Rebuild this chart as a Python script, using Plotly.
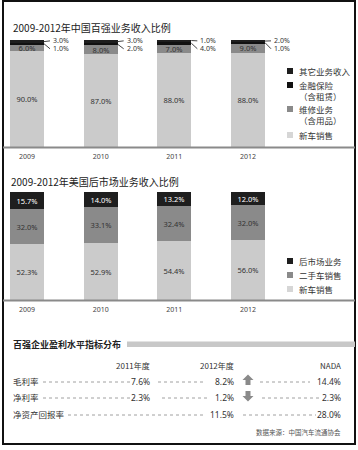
import plotly.graph_objects as go

# ---------------- data ----------------
years = ["2009", "2010", "2011", "2012"]

# China top-100 dealer revenue mix (%)
cn_new_car = [90.0, 87.0, 88.0, 88.0]
cn_repair = [6.0, 8.0, 7.0, 9.0]
cn_finance = [1.0, 2.0, 4.0, 1.0]
cn_other = [3.0, 3.0, 1.0, 2.0]

# US aftermarket revenue mix (%)
us_new_car = [52.3, 52.9, 54.4, 56.0]
us_used_car = [32.0, 33.1, 32.4, 32.0]
us_aftermarket = [15.7, 14.0, 13.2, 12.0]

# profitability table
metrics = ["毛利率", "净利率", "净资产回报率"]
col_headers = ["2011年度", "2012年度", "NADA"]
val_2011 = [7.6, 2.3, None]
val_2012 = [8.2, 1.2, 11.5]
val_nada = [14.4, 2.3, 28.0]
trend_2012 = ["up", "down", None]

title1 = "2009-2012年中国百强业务收入比例"
title2 = "2009-2012年美国后市场业务收入比例"
title3 = "百强企业盈利水平指标分布"
source = "数据来源：中国汽车流通协会"
legend1 = ["其它业务收入", "金融保险<br>（含租赁）", "维修业务<br>（含用品）", "新车销售"]
legend2 = ["后市场业务", "二手车销售", "新车销售"]

# ---------------- style ----------------
W, H = 358, 450
def px(x):
    return x / W
def py(y):
    return 1 - y / H

LIGHT = "#cbcbcb"
MID = "#8a8a8a"
DARK = "#1e1e1e"
DARK2 = "#111111"
TXT = "#333333"
CJK = "Noto Sans CJK SC"
NUM = "Noto Sans, Noto Sans CJK SC"

x_idx = list(range(len(years)))
BW = 0.4615
XR = [-0.3665, 4.493]

fig = go.Figure()

def add_bar(vals, color, xa, ya, with_text=True, tcolor=TXT):
    fig.add_trace(go.Bar(
        x=x_idx, y=vals, width=BW, xaxis=xa, yaxis=ya,
        marker=dict(color=color, line=dict(width=0)),
        text=[f"{v:.1f}%" for v in vals] if with_text else None,
        textposition="inside" if with_text else "none",
        insidetextanchor="middle", textangle=0,
        insidetextfont=dict(family=NUM, size=7.5, color=tcolor),
        hoverinfo="skip", showlegend=False))

# chart 1
add_bar(cn_new_car, LIGHT, "x", "y")
add_bar(cn_repair, MID, "x", "y")
add_bar(cn_finance, DARK2, "x", "y", with_text=False)
add_bar(cn_other, DARK, "x", "y", with_text=False)
# chart 2
add_bar(us_new_car, LIGHT, "x2", "y2")
add_bar(us_used_car, MID, "x2", "y2")
add_bar(us_aftermarket, DARK, "x2", "y2", tcolor="white")

shapes = []
annotations = []

# outside labels with leader lines for small segments (chart 1)
for i in x_idx:
    top = cn_new_car[i] + cn_repair[i] + cn_finance[i] + cn_other[i]
    mid_other = top - cn_other[i] / 2
    mid_fin = top - cn_other[i] - cn_finance[i] / 2
    for val, mid, ly in ((cn_other[i], mid_other, top - 0.8), (cn_finance[i], mid_fin, top - 8.2)):
        shapes.append(dict(type="line", xref="x", yref="y", xsizemode="pixel", xanchor=i + BW / 2,
                           x0=0, x1=6, y0=mid, y1=ly, line=dict(color="#444", width=1)))
        annotations.append(dict(x=i + BW / 2, y=ly, xref="x", yref="y", xshift=7, xanchor="left",
                                yanchor="middle", text=f"{val:.1f}%", showarrow=False,
                                font=dict(family=NUM, size=7, color=TXT)))

# frame
shapes.append(dict(type="rect", xref="paper", yref="paper", x0=px(3), x1=px(355), y0=py(1), y1=py(444),
                   line=dict(color="#111", width=2)))
# axis base lines
for yl in (147.5, 300.5):
    shapes.append(dict(type="line", xref="paper", yref="paper", x0=px(3), x1=px(355), y0=py(yl), y1=py(yl),
                       line=dict(color="#8a8a8a", width=2)))

# titles
annotations.append(dict(x=px(11), y=py(27), xref="paper", yref="paper", xanchor="left", yanchor="middle",
                        text=title1, showarrow=False, font=dict(family=CJK, size=10, color="#222")))
annotations.append(dict(x=px(9), y=py(181), xref="paper", yref="paper", xanchor="left", yanchor="middle",
                        text=title2, showarrow=False, font=dict(family=CJK, size=10, color="#222")))

# legends (marker y, text centre y)
leg1_colors = [DARK, DARK2, MID, "#d6d6d6"]
leg1_pos = [(71, 71), (85, 90.5), (109, 114.5), (135, 135)]
for lab, c, (my, ty) in zip(legend1, leg1_colors, leg1_pos):
    shapes.append(dict(type="rect", xref="paper", yref="paper", x0=px(287), x1=px(293), y0=py(my - 3), y1=py(my + 3),
                       fillcolor=c, line=dict(width=0)))
    annotations.append(dict(x=px(297), y=py(ty), xref="paper", yref="paper", xanchor="left", yanchor="middle",
                            align="left", text=lab, showarrow=False, font=dict(family=CJK, size=8.5, color=TXT)))
leg2_colors = [DARK, MID, "#d6d6d6"]
leg2_y = [261, 275, 289]
for lab, c, yy in zip(legend2, leg2_colors, leg2_y):
    shapes.append(dict(type="rect", xref="paper", yref="paper", x0=px(287), x1=px(293), y0=py(yy - 3), y1=py(yy + 3),
                       fillcolor=c, line=dict(width=0)))
    annotations.append(dict(x=px(297), y=py(yy), xref="paper", yref="paper", xanchor="left", yanchor="middle",
                            text=lab, showarrow=False, font=dict(family=CJK, size=8.5, color=TXT)))

# section 3 title + bar
annotations.append(dict(x=px(11), y=py(344), xref="paper", yref="paper", xanchor="left", yanchor="middle",
                        text=f"<b>{title3}</b>", showarrow=False, font=dict(family=CJK, size=9, color="#222")))
shapes.append(dict(type="rect", xref="paper", yref="paper", x0=px(127), x1=px(355), y0=py(341.5), y1=py(347),
                   fillcolor="#c8c8c8", line=dict(width=0)))

# table
col_right = [152, 236, 343]
for h, xr in zip(col_headers, col_right):
    annotations.append(dict(x=px(xr), y=py(365), xref="paper", yref="paper", xanchor="right", yanchor="middle",
                            text=h, showarrow=False, font=dict(family=CJK, size=8, color=TXT)))
row_y = [381, 397, 414]
dots = [[(43, 132), (158, 206), (260, 310)],
        [(43, 135), (162, 210), (262, 320)],
        [(68, 204), (243, 316)]]
for r, (m, yy) in enumerate(zip(metrics, row_y)):
    annotations.append(dict(x=px(11), y=py(yy), xref="paper", yref="paper", xanchor="left", yanchor="middle",
                            text=m, showarrow=False, font=dict(family=CJK, size=8.5, color=TXT)))
    for v, xr in zip((val_2011[r], val_2012[r], val_nada[r]), col_right):
        if v is None:
            continue
        annotations.append(dict(x=px(xr), y=py(yy), xref="paper", yref="paper", xanchor="right", yanchor="middle",
                                text=f"{v:.1f}%", showarrow=False, font=dict(family=NUM, size=8.5, color=TXT)))
    for x0, x1 in dots[r]:
        shapes.append(dict(type="line", xref="paper", yref="paper", x0=px(x0), x1=px(x1), y0=py(yy + 1), y1=py(yy + 1),
                           line=dict(color="#a0a0a0", width=1, dash="dot")))
    t = trend_2012[r]
    if t:
        cx, cy = 248, yy - 1
        if t == "up":
            pts = [(cx, cy - 5.5), (cx + 5.5, cy), (cx + 2.5, cy), (cx + 2.5, cy + 5), (cx - 2.5, cy + 5), (cx - 2.5, cy), (cx - 5.5, cy)]
        else:
            pts = [(cx, cy + 5.5), (cx + 5.5, cy), (cx + 2.5, cy), (cx + 2.5, cy - 5), (cx - 2.5, cy - 5), (cx - 2.5, cy), (cx - 5.5, cy)]
        path = "M " + " L ".join(f"{px(a):.5f},{py(b):.5f}" for a, b in pts) + " Z"
        shapes.append(dict(type="path", xref="paper", yref="paper", path=path, fillcolor="#8a8a8a", line=dict(width=0)))

annotations.append(dict(x=px(343), y=py(432), xref="paper", yref="paper", xanchor="right", yanchor="middle",
                        text=source, showarrow=False, font=dict(family=CJK, size=6.5, color="#555")))

axis_x = dict(range=XR, domain=[0, 1], tickvals=x_idx, ticktext=years, showgrid=False, zeroline=False,
              showline=False, ticks="", ticklabelstandoff=4, color="#444444",
              tickfont=dict(family=NUM, size=7, color="#444444"), fixedrange=True)
fig.update_layout(
    template="none",
    font=dict(family=NUM, color=TXT),
    width=W, height=H, margin=dict(l=0, r=0, t=0, b=0),
    paper_bgcolor="white", plot_bgcolor="white",
    barmode="stack", bargap=0,
    uniformtext=dict(minsize=7.5, mode="show"),
    xaxis=dict(axis_x, anchor="y"),
    yaxis=dict(domain=[py(147), py(40)], range=[0, 100], visible=False, fixedrange=True),
    xaxis2=dict(axis_x, anchor="y2"),
    yaxis2=dict(domain=[py(300), py(192)], range=[0, 100], visible=False, fixedrange=True),
    shapes=shapes, annotations=annotations, showlegend=False,
)

fig.write_html("out.html", config={"displayModeBar": False},
               post_script="document.body.style.margin='0';")
